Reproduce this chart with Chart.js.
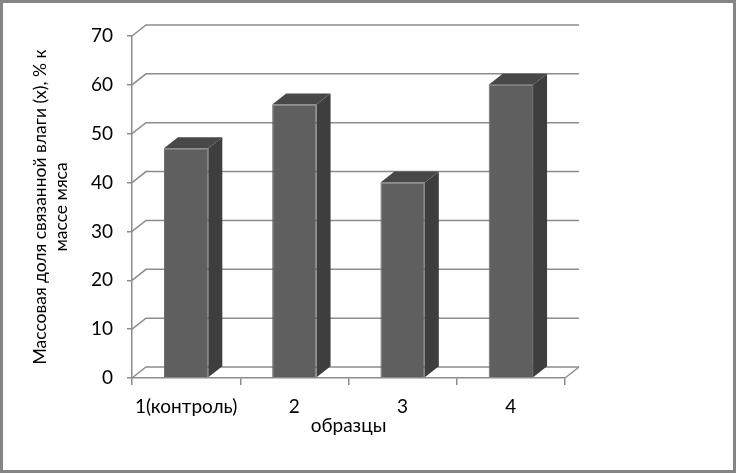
<!DOCTYPE html>
<html>
<head>
<meta charset="utf-8">
<script src="https://cdn.jsdelivr.net/npm/chart.js@4"></script>
<style>
  html, body { margin: 0; padding: 0; background: #fff; }
  canvas { display: block; }
</style>
</head>
<body>
<canvas id="chart" width="737" height="474"></canvas>
<script>
// samples and bound moisture values (% of meat mass)
const categories = ['1(контроль)', '2', '3', '4'];
const values = [47, 56, 40, 60];
const yMin = 0;
const yMax = 70;
const yStep = 10;

const FONT = 'Lato, "Noto Sans", sans-serif';
const DX = 14, DY = 11; // depth of the fake 3d box

const box3d = {
  id: 'box3d',
  beforeDatasetsDraw(chart) {
    const ctx = chart.ctx;
    const y = chart.scales.y;
    const { left, right, bottom } = chart.chartArea;
    ctx.save();
    ctx.strokeStyle = '#8c8c8c';
    ctx.lineWidth = 1.5;
    y.ticks.forEach(t => {
      const py = y.getPixelForValue(t.value);
      ctx.beginPath();
      ctx.moveTo(left, py);
      ctx.lineTo(left + DX, py - DY);
      ctx.lineTo(right + DX, py - DY);
      ctx.stroke();
    });
    // right edge of the floor
    ctx.beginPath();
    ctx.moveTo(right, bottom);
    ctx.lineTo(right + DX, bottom - DY);
    ctx.stroke();
    ctx.restore();
  },
  afterDatasetsDraw(chart) {
    const ctx = chart.ctx;
    ctx.save();
    chart.getDatasetMeta(0).data.forEach(bar => {
      const l = bar.x - bar.width / 2;
      const r = bar.x + bar.width / 2;
      const top = bar.y;
      const base = bar.base;
      // side
      ctx.fillStyle = '#3e3e3e';
      ctx.beginPath();
      ctx.moveTo(r, top);
      ctx.lineTo(r + DX, top - DY);
      ctx.lineTo(r + DX, base - DY);
      ctx.lineTo(r, base);
      ctx.closePath();
      ctx.fill();
      // top
      ctx.fillStyle = '#484848';
      ctx.beginPath();
      ctx.moveTo(l, top);
      ctx.lineTo(l + DX, top - DY);
      ctx.lineTo(r + DX, top - DY);
      ctx.lineTo(r, top);
      ctx.closePath();
      ctx.fill();
    });
    ctx.restore();
  },
  afterDraw(chart) {
    const ctx = chart.ctx;
    ctx.save();
    ctx.strokeStyle = '#858585';
    ctx.lineWidth = 3;
    ctx.strokeRect(1.5, 1.5, chart.width - 4, chart.height - 4);
    ctx.restore();
  }
};

new Chart(document.getElementById('chart'), {
  type: 'bar',
  data: {
    labels: categories,
    datasets: [{
      data: values,
      backgroundColor: '#5f5f5f',
      borderColor: '#666666',
      borderWidth: 1,
      categoryPercentage: 1,
      barPercentage: 0.41
    }]
  },
  options: {
    responsive: false,
    animation: false,
    devicePixelRatio: 1,
    layout: { padding: { top: 36, right: 172, bottom: 0, left: 0 } },
    plugins: {
      legend: { display: false },
      tooltip: { enabled: false }
    },
    scales: {
      x: {
        grid: { drawOnChartArea: false, drawTicks: true, tickLength: 7, color: '#8c8c8c', lineWidth: 1.5 },
        border: { display: true, color: '#8c8c8c', width: 1.5 },
        ticks: { color: '#000', font: { family: FONT, size: 19 }, padding: 10, maxRotation: 0 },
        title: {
          display: true,
          text: 'образцы',
          color: '#000',
          font: { family: FONT, size: 19, lineHeight: 1.2 },
          padding: { top: 0, bottom: 37 }
        },
        afterFit(s) { s.height = 96; }
      },
      y: {
        min: yMin,
        max: yMax,
        grid: { drawOnChartArea: false, drawTicks: true, tickLength: 5, color: '#8c8c8c', lineWidth: 1.5 },
        border: { display: true, color: '#8c8c8c', width: 1.5 },
        ticks: { stepSize: yStep, color: '#000', font: { family: FONT, size: 19 }, padding: 14 },
        title: {
          display: true,
          text: ['Массовая доля связанной влаги (х), % к', 'массе мяса'],
          color: '#000',
          font: { family: FONT, size: 17.5, lineHeight: 1.25 },
          padding: { top: 29, bottom: 0 }
        },
        afterFit(s) { s.width = 132; }
      }
    }
  },
  plugins: [box3d]
});
</script>
</body>
</html>
